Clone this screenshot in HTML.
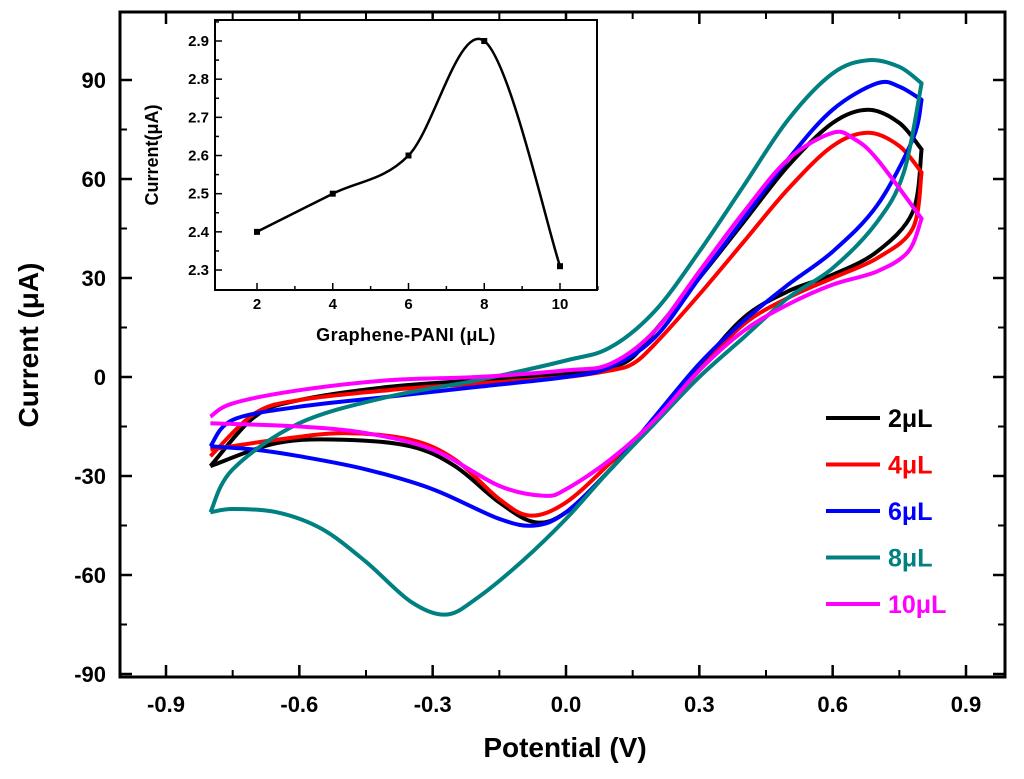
<!DOCTYPE html>
<html><head><meta charset="utf-8"><style>
html,body{margin:0;padding:0;background:#fff;}
svg{display:block;font-family:"Liberation Sans",Arial,sans-serif;}
</style></head><body>
<svg id="chart" width="1024" height="779" viewBox="0 0 1024 779">
<g id="plot"></g>
</svg>
<script>
// Main chart data (Potential V, Current µA)
const seriesLabels = ["2μL","4μL","6μL","8μL","10μL"];
const seriesColors = ["#000000","#ff0000","#0000ff","#008080","#ff00ff"];
const s2 = [[-0.8,-27],[-0.7,-12],[-0.6,-7],[-0.4,-3],[-0.2,-1],[0,1],[0.1,3],[0.15,6],[0.2,14],[0.3,30],[0.4,47],[0.5,64],[0.6,77],[0.68,81],[0.75,77],[0.8,69],[0.78,50],[0.7,38],[0.6,31],[0.5,26],[0.4,18],[0.3,3],[0.2,-13],[0.1,-28],[0,-41],[-0.07,-44],[-0.15,-38],[-0.25,-27],[-0.35,-21],[-0.5,-19],[-0.65,-20],[-0.8,-27]];
const s4 = [[-0.8,-24],[-0.7,-11],[-0.6,-7],[-0.4,-4],[-0.2,-2],[0,0],[0.1,2],[0.15,4],[0.2,10],[0.3,25],[0.4,41],[0.5,57],[0.6,70],[0.68,74],[0.75,70],[0.8,62],[0.78,45],[0.7,36],[0.6,30],[0.5,24],[0.4,16],[0.3,2],[0.2,-13],[0.1,-26],[0,-38],[-0.08,-42],[-0.15,-37],[-0.25,-25],[-0.35,-19],[-0.5,-17],[-0.65,-19],[-0.8,-22]];
const s6 = [[-0.8,-21],[-0.75,-13],[-0.6,-9],[-0.4,-6],[-0.2,-3],[0,0],[0.1,3],[0.2,12],[0.3,30],[0.4,48],[0.5,66],[0.6,81],[0.7,89],[0.75,88],[0.8,84],[0.78,72],[0.7,52],[0.6,38],[0.5,28],[0.4,17],[0.3,4],[0.2,-12],[0.1,-28],[0,-41],[-0.07,-45],[-0.15,-43],[-0.3,-34],[-0.45,-28],[-0.6,-24],[-0.7,-22],[-0.8,-21]];
const s8 = [[-0.8,-41],[-0.75,-28],[-0.6,-14],[-0.4,-6],[-0.2,-1],[0,5],[0.1,9],[0.2,20],[0.3,38],[0.4,58],[0.5,78],[0.6,92],[0.68,96],[0.75,94],[0.8,89],[0.76,62],[0.7,47],[0.6,33],[0.5,24],[0.4,12],[0.3,0],[0.2,-14],[0.1,-28],[0,-43],[-0.1,-56],[-0.2,-67],[-0.27,-72],[-0.35,-68],[-0.45,-56],[-0.55,-46],[-0.65,-41],[-0.75,-40],[-0.8,-41]];
const s10 = [[-0.8,-12],[-0.75,-8],[-0.6,-4],[-0.4,-1],[-0.2,0],[0,2],[0.1,4],[0.2,14],[0.3,32],[0.4,50],[0.5,66],[0.6,74],[0.65,72],[0.7,66],[0.8,48],[0.77,38],[0.7,32],[0.6,28],[0.5,22],[0.4,14],[0.3,2],[0.2,-13],[0.1,-25],[0,-34],[-0.05,-36],[-0.15,-33],[-0.3,-22],[-0.45,-17],[-0.6,-15],[-0.8,-14]];
const xTicks = [-0.9,-0.6,-0.3,0.0,0.3,0.6,0.9];
const xTickLabels = ["-0.9","-0.6","-0.3","0.0","0.3","0.6","0.9"];
const yTicks = [-90,-60,-30,0,30,60,90];
const yTickLabels = ["-90","-60","-30","0","30","60","90"];
// Inset data
const insetX = [2,4,6,8,10];
const insetY = [2.40,2.50,2.60,2.90,2.31];
const insetXTicks = [2,4,6,8,10];
const insetYTicks = [2.3,2.4,2.5,2.6,2.7,2.8,2.9];

const NS="http://www.w3.org/2000/svg";
const svg=document.getElementById('chart');
function mk(tag,attrs,parent){const e=document.createElementNS(NS,tag);for(const k in attrs)e.setAttribute(k,attrs[k]);(parent||svg).appendChild(e);return e;}
const X=v=>566+(v)*444.44;
const Y=v=>377-(v)*3.3;
function smoothSeg(pts,start){let d=start?("M"+pts[0][0].toFixed(1)+","+pts[0][1].toFixed(1)):"";
 for(let i=0;i<pts.length-1;i++){const p0=pts[Math.max(0,i-1)],p1=pts[i],p2=pts[i+1],p3=pts[Math.min(pts.length-1,i+2)];
 const c1=[p1[0]+(p2[0]-p0[0])/6,p1[1]+(p2[1]-p0[1])/6],c2=[p2[0]-(p3[0]-p1[0])/6,p2[1]-(p3[1]-p1[1])/6];
 d+=" C"+c1[0].toFixed(1)+","+c1[1].toFixed(1)+" "+c2[0].toFixed(1)+","+c2[1].toFixed(1)+" "+p2[0].toFixed(1)+","+p2[1].toFixed(1);}
 return d;}
function loopPath(s){
 let k=0;for(let i=0;i<s.length;i++){if(s[i][0]>s[k][0])k=i;}
 const px=s.map(q=>[X(q[0]),Y(q[1])]);
 return smoothSeg(px.slice(0,k+1),true)+smoothSeg(px.slice(k),false);
}
// series
const allSeries=[s2,s4,s6,s8,s10];
allSeries.forEach((s,i)=>{
 const p=mk('path',{d:loopPath(s),fill:'none',stroke:seriesColors[i],'stroke-width':4,'stroke-linejoin':'round'});
 
 
});
// frame
const fr=mk('rect',{x:120,y:12,width:885,height:665,fill:'none',stroke:'#000','stroke-width':3});


// x ticks
xTicks.forEach((t,i)=>{
 mk('line',{x1:X(t),x2:X(t),y1:677,y2:665,stroke:'#000','stroke-width':2.5});
 mk('line',{x1:X(t),x2:X(t),y1:12,y2:24,stroke:'#000','stroke-width':2.5});
 if(i<xTicks.length-1){const m=X(t+0.15);
  mk('line',{x1:m,x2:m,y1:677,y2:670,stroke:'#000','stroke-width':2});
  mk('line',{x1:m,x2:m,y1:12,y2:19,stroke:'#000','stroke-width':2});}
 const tx=mk('text',{x:X(t),y:712,'text-anchor':'middle','font-size':22,'font-weight':'bold'});
 tx.textContent=xTickLabels[i];
 
 
});
yTicks.forEach((t,i)=>{
 mk('line',{x1:120,x2:132,y1:Y(t),y2:Y(t),stroke:'#000','stroke-width':2.5});
 mk('line',{x1:1005,x2:993,y1:Y(t),y2:Y(t),stroke:'#000','stroke-width':2.5});
 if(i<yTicks.length-1){const m=Y(t+15);
  mk('line',{x1:120,x2:127,y1:m,y2:m,stroke:'#000','stroke-width':2});
  mk('line',{x1:1005,x2:998,y1:m,y2:m,stroke:'#000','stroke-width':2});}
 const tx=mk('text',{x:106,y:Y(t)+8,'text-anchor':'end','font-size':22,'font-weight':'bold'});
 tx.textContent=yTickLabels[i];
 
 
});
const xt=mk('text',{x:565,y:757,'text-anchor':'middle','font-size':28,'font-weight':'bold'});
xt.textContent="Potential (V)";


const yt=mk('text',{x:0,y:0,'text-anchor':'middle','font-size':28,'font-weight':'bold',transform:'translate(38,345) rotate(-90)'});
yt.textContent="Current (μA)";


// legend
seriesLabels.forEach((l,i)=>{
 const y=418+i*46.5;
 const ln=mk('line',{x1:826,x2:880,y1:y,y2:y,stroke:seriesColors[i],'stroke-width':4});
 
 
 const tx=mk('text',{x:888,y:y+9,'font-size':25,'font-weight':'bold',fill:seriesColors[i]});
 tx.textContent=l;
 
 
});
// inset
const IX=v=>257+(v-2)*37.875;
const IY=v=>41+(2.9-v)*381.7;
const ir=mk('rect',{x:215,y:20,width:382,height:270,fill:'#fff',stroke:'#000','stroke-width':2});


insetXTicks.forEach(t=>{
 mk('line',{x1:IX(t),x2:IX(t),y1:290,y2:283,stroke:'#000','stroke-width':1.5});
 mk('line',{x1:IX(t)+37.875,x2:IX(t)+37.875,y1:290,y2:286,stroke:'#000','stroke-width':1.5});
 const tx=mk('text',{x:IX(t),y:309,'text-anchor':'middle','font-size':15,'font-weight':'bold'});
 tx.textContent=String(t);
 
 
});
insetYTicks.forEach(t=>{
 mk('line',{x1:215,x2:222,y1:IY(t),y2:IY(t),stroke:'#000','stroke-width':1.5});
 mk('line',{x1:215,x2:219,y1:IY(t+0.05),y2:IY(t+0.05),stroke:'#000','stroke-width':1.5});
 const tx=mk('text',{x:209,y:IY(t)+5,'text-anchor':'end','font-size':15,'font-weight':'bold'});
 tx.textContent=t.toFixed(1);
 
 
});
const ipts=insetX.map((x,i)=>[IX(x),IY(insetY[i])]);
const ic=mk('path',{d:smoothSeg(ipts,true),fill:'none',stroke:'#000','stroke-width':2.5});


ipts.forEach(p=>{const r=mk('rect',{x:p[0]-3,y:p[1]-3,width:6,height:6,fill:'#000'});
 
 });
const ixt=mk('text',{x:406,y:341,'text-anchor':'middle','font-size':18,'font-weight':'bold','letter-spacing':'0.5'});
ixt.textContent="Graphene-PANI (μL)";


const iyt=mk('text',{x:0,y:0,'text-anchor':'middle','font-size':18,'font-weight':'bold',transform:'translate(158,155) rotate(-90)'});
iyt.textContent="Current(μA)";


</script>
</body></html>
